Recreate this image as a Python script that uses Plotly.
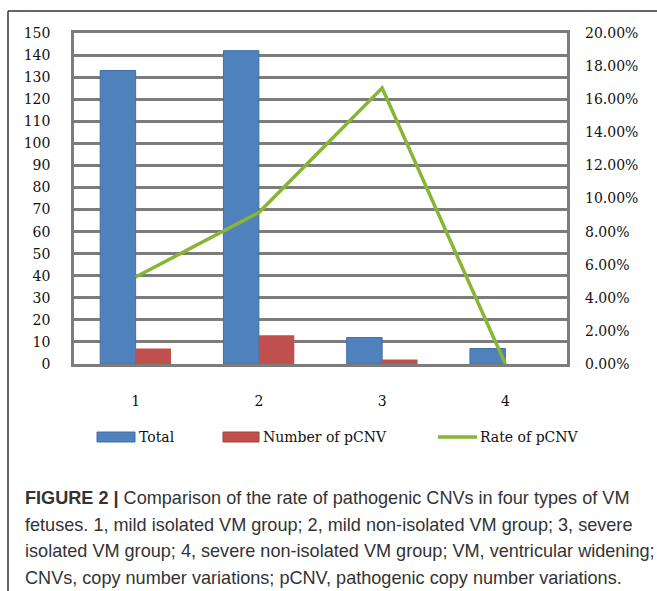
import plotly.graph_objects as go

# Group labels and counts
groups = ["1", "2", "3", "4"]
total = [133, 142, 12, 7]
pcnv = [7, 13, 2, 0]
rate = [0.0526, 0.0915, 0.1667, 0.0]

left_ticks = list(range(0, 151, 10))
right_ticks = [i / 100 for i in range(0, 21, 2)]

W, H = 657, 591
L, R, T, B = 74, 567, 33, 364  # plot area in pixels

BLUE = "#4F81BD"
RED = "#C0504D"
GREEN = "#88B536"
GRID = "#7c7c7c"
SERIF = "DejaVu Serif"
SANS = "Liberation Sans"


def px(x):
    return (x - L) / (R - L)


def py(y):
    return (B - y) / (B - T)


fig = go.Figure()
fig.add_trace(go.Bar(x=groups, y=total, name="Total",
                     marker=dict(color=BLUE, line=dict(color="#3f6fa8", width=1))))
fig.add_trace(go.Bar(x=groups, y=pcnv, name="Number of pCNV",
                     marker=dict(color=RED, line=dict(width=0))))
fig.add_trace(go.Scatter(x=groups, y=rate, name="Rate of pCNV", yaxis="y2",
                         mode="lines", line=dict(color=GREEN, width=3.5)))

shapes = [
    # outer frame (left and top edges)
    dict(type="line", xref="paper", yref="paper", x0=px(8), x1=px(8), y0=py(11), y1=py(600),
         line=dict(color="#333333", width=1.5)),
    dict(type="line", xref="paper", yref="paper", x0=px(8), x1=px(660), y0=py(11), y1=py(11),
         line=dict(color="#333333", width=1.5)),
]

annotations = []

# custom legend
legend_items = [
    ("rect", BLUE, "#3f6fa8", 97, 135, "Total", 137),
    ("rect", RED, "#a83c3a", 223, 259, "Number of pCNV", 261),
    ("line", GREEN, GREEN, 438, 477, "Rate of pCNV", 478),
]
ly = 437
for kind, fill, edge, x0, x1, label, tx in legend_items:
    if kind == "rect":
        shapes.append(dict(type="rect", xref="paper", yref="paper",
                           x0=px(x0), x1=px(x1), y0=py(ly + 5), y1=py(ly - 5),
                           fillcolor=fill, line=dict(color=edge, width=1)))
    else:
        shapes.append(dict(type="line", xref="paper", yref="paper",
                           x0=px(x0), x1=px(x1), y0=py(ly), y1=py(ly),
                           line=dict(color=fill, width=3.5)))
    annotations.append(dict(text=label, xref="paper", yref="paper", x=px(tx), y=py(ly),
                            xanchor="left", yanchor="middle", showarrow=False,
                            font=dict(family=SERIF, size=14, color="#111111")))

# caption
caption = [
    "<b>FIGURE 2 |</b> Comparison of the rate of pathogenic CNVs in four types of VM",
    "fetuses. 1, mild isolated VM group; 2, mild non-isolated VM group; 3, severe",
    "isolated VM group; 4, severe non-isolated VM group; VM, ventricular widening;",
    "CNVs, copy number variations; pCNV, pathogenic copy number variations.",
]
for i, line in enumerate(caption):
    annotations.append(dict(text=line, xref="paper", yref="paper", x=px(23), y=py(498 + i * 26.7),
                            xanchor="left", yanchor="middle", showarrow=False,
                            font=dict(family=SANS, size=18.1, color="#333333")))

fig.update_layout(
    width=W, height=H,
    margin=dict(l=L, r=W - R, t=T, b=H - B),
    paper_bgcolor="white", plot_bgcolor="white",
    barmode="group", bargap=0.425, bargroupgap=0,
    showlegend=False,
    xaxis=dict(showgrid=False, showline=True, linecolor=GRID, linewidth=2.5, mirror=True,
               ticks="", ticklabelstandoff=22,
               tickfont=dict(family=SERIF, size=14, color="#111111")),
    yaxis=dict(range=[0, 150], tickvals=left_ticks, showgrid=True, gridcolor=GRID, gridwidth=2.5,
               showline=True, linecolor=GRID, linewidth=2.5, mirror=True, zeroline=False,
               ticks="", ticklabelstandoff=18,
               tickfont=dict(family=SERIF, size=14, color="#111111")),
    yaxis2=dict(range=[0, 0.2], tickvals=right_ticks, tickformat=".2%", overlaying="y",
                side="right", showgrid=False, zeroline=False, showline=False,
                ticks="", ticklabelstandoff=17,
                tickfont=dict(family=SERIF, size=14, color="#111111")),
    shapes=shapes,
    annotations=annotations,
)

fig.write_html("out.html")
